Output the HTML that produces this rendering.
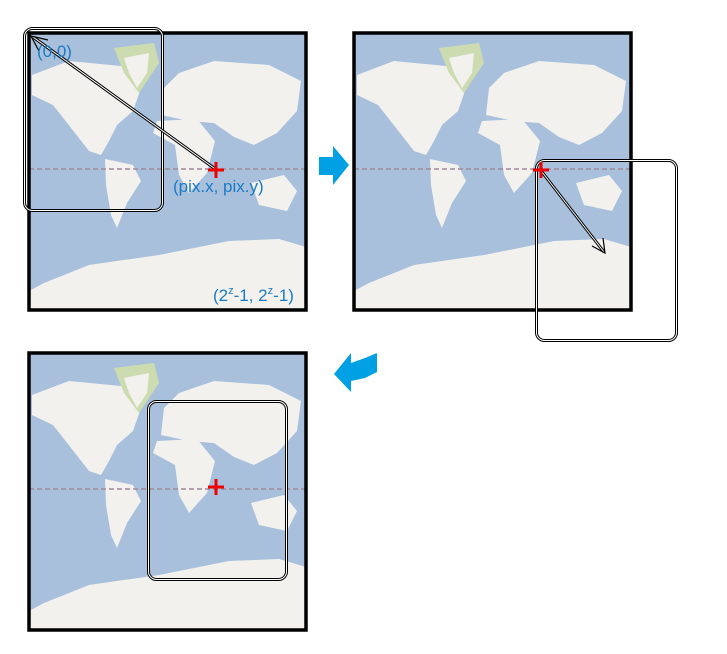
<!DOCTYPE html>
<html><head><meta charset="utf-8"><style>
html,body{margin:0;padding:0;background:#fff;}
svg{display:block}
text{font-family:"Liberation Sans",sans-serif;fill:#1a7bc4;font-size:17px}
</style></head><body>
<svg width="727" height="654" viewBox="0 0 727 654" xmlns="http://www.w3.org/2000/svg">
<defs>
<g id="map">
<rect x="0" y="0" width="277" height="277" fill="#a8c0dc"/>
<g fill="#f2f1ee">
<polygon points="3,42 40,28 92,33 112,55 104,78 88,92 80,108 72,122 60,118 46,100 24,72 3,62"/>
<polygon points="76,126 104,132 112,148 98,170 88,195 82,182 77,152"/>
<polygon points="135,55 150,40 185,28 240,32 272,48 268,78 248,100 225,112 205,104 185,90 160,88 132,82"/>
<polygon points="128,88 168,86 186,108 178,140 160,160 150,142 146,112 124,100"/>
<polygon points="222,150 255,142 268,158 258,178 230,172"/>
<polygon points="15,250 60,232 130,222 200,208 250,206 277,214 277,277 0,277 0,258"/>
</g>
<polygon points="85,15 125,10 130,30 110,60 95,40" fill="#cddcb0"/>
<polygon points="95,25 120,20 118,40 108,55 100,40" fill="#f2f1ee"/>
<line x1="0" y1="136" x2="277" y2="136" stroke="#a08898" stroke-width="1.5" stroke-dasharray="5,3"/>
<rect x="0" y="0" width="277" height="277" fill="none" stroke="#000" stroke-width="3.5"/>
</g>
<g id="cross"><path d="M-8,0H8M0,-8V8" stroke="#e00" stroke-width="3"/></g>
</defs>

<use href="#map" x="29" y="33"/>
<use href="#map" x="354" y="33"/>
<use href="#map" x="29" y="353"/>

<!-- map 1 -->
<rect x="24.5" y="28.5" width="138" height="182" rx="8" fill="none" stroke="#000" stroke-width="3"/>
<rect x="24.5" y="28.5" width="138" height="182" rx="8" fill="none" stroke="#fff" stroke-width="1"/>
<line x1="214" y1="168" x2="33" y2="37" stroke="#000" stroke-width="3"/>
<line x1="214" y1="168" x2="33" y2="37" stroke="#fff" stroke-width="1"/>
<path d="M48,40 L31,36 L39,51" fill="none" stroke="#000" stroke-width="1.2"/>
<use href="#cross" x="216" y="170"/>
<text x="37" y="57">(0,0)</text>
<text x="173" y="192">(pix.x, pix.y)</text>
<text x="213" y="301">(2<tspan font-size="11" dy="-7">z</tspan><tspan dy="7">-1, 2</tspan><tspan font-size="11" dy="-7">z</tspan><tspan dy="7">-1)</tspan></text>

<!-- map 2 -->
<rect x="536.5" y="160.5" width="140" height="180" rx="8" fill="none" stroke="#000" stroke-width="3"/>
<rect x="536.5" y="160.5" width="140" height="180" rx="8" fill="none" stroke="#fff" stroke-width="1"/>
<line x1="542" y1="172" x2="604" y2="252" stroke="#000" stroke-width="3"/>
<line x1="542" y1="172" x2="604" y2="252" stroke="#fff" stroke-width="1"/>
<path d="M592,246 L605,253 L603,238" fill="none" stroke="#000" stroke-width="1.2"/>
<use href="#cross" x="541" y="170"/>

<!-- map 3 -->
<rect x="148.5" y="401.5" width="138" height="178" rx="8" fill="none" stroke="#000" stroke-width="3"/>
<rect x="148.5" y="401.5" width="138" height="178" rx="8" fill="none" stroke="#fff" stroke-width="1"/>
<use href="#cross" x="216" y="487"/>

<!-- blue arrows -->
<polygon points="319,157 333,157 333,146 349,165 333,185 333,175 319,175" fill="#00a0e4"/>
<polygon points="334,374 351,353 351,363 365,358 377,353 377,372 365,378 351,381 351,392" fill="#00a0e4"/>
</svg>
</body></html>
